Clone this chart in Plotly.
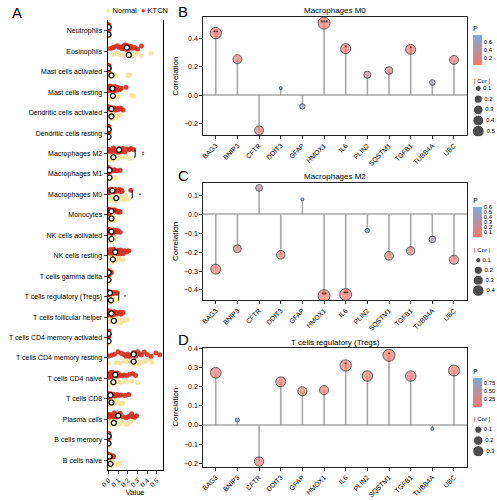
import numpy as np
import plotly.graph_objects as go

# ---------------- data: panel A ----------------
cell_types = ["Neutrophils", "Eosinophils", "Mast cells activated", "Mast cells resting",
              "Dendritic cells activated", "Dendritic cells resting", "Macrophages M2",
              "Macrophages M1", "Macrophages M0", "Monocytes", "NK cells activated",
              "NK cells resting", "T cells gamma delta", "T cells regulatory (Tregs)",
              "T cells follicular helper", "T cells CD4 memory activated",
              "T cells CD4 memory resting", "T cells CD4 naive", "T cells CD8",
              "Plasma cells", "B cells memory", "B cells naive"]

ktcn_values = [
    [0, 0, 0, 0, 0, 0, 0, 0, 0, 0, 0, 0, 0, 0, 0, 0, 0.003, 0.005, 0.008, 0.01],
    [0.02, 0.04, 0.06, 0.09, 0.11, 0.13, 0.14, 0.15, 0.16, 0.17, 0.18, 0.19, 0.2, 0.21, 0.22, 0.23, 0.25, 0.27, 0.3, 0.34],
    [0, 0, 0, 0, 0, 0, 0, 0, 0, 0, 0, 0, 0, 0, 0, 0, 0, 0.003, 0.005, 0.008],
    [0, 0, 0, 0, 0.01, 0.02, 0.03, 0.03, 0.04, 0.04, 0.05, 0.06, 0.07, 0.08, 0.09, 0.1, 0.11, 0.12, 0.13, 0.18],
    [0, 0, 0, 0, 0, 0.01, 0.02, 0.02, 0.03, 0.03, 0.04, 0.05, 0.06, 0.07, 0.08, 0.09, 0.1, 0.12, 0.13, 0.15],
    [0, 0, 0, 0, 0, 0, 0, 0, 0, 0, 0, 0, 0, 0, 0, 0, 0.003, 0.005, 0.008, 0.01],
    [0, 0.01, 0.02, 0.03, 0.05, 0.06, 0.07, 0.08, 0.09, 0.1, 0.11, 0.12, 0.13, 0.14, 0.15, 0.17, 0.19, 0.21, 0.23, 0.26],
    [0, 0, 0, 0, 0, 0, 0, 0, 0.01, 0.01, 0.02, 0.02, 0.03, 0.03, 0.04, 0.05, 0.06, 0.07, 0.09, 0.12],
    [0, 0, 0, 0, 0.01, 0.02, 0.02, 0.03, 0.04, 0.05, 0.06, 0.07, 0.08, 0.09, 0.1, 0.11, 0.12, 0.13, 0.14, 0.23],
    [0, 0, 0, 0, 0.01, 0.01, 0.02, 0.02, 0.03, 0.03, 0.04, 0.04, 0.05, 0.06, 0.07, 0.08, 0.09, 0.1, 0.11, 0.12],
    [0, 0, 0, 0, 0.01, 0.01, 0.02, 0.02, 0.03, 0.03, 0.04, 0.04, 0.05, 0.05, 0.06, 0.07, 0.08, 0.09, 0.1, 0.12],
    [0, 0.01, 0.02, 0.03, 0.04, 0.05, 0.06, 0.06, 0.07, 0.08, 0.09, 0.1, 0.11, 0.12, 0.13, 0.14, 0.15, 0.17, 0.19, 0.21],
    [0, 0, 0, 0, 0, 0, 0, 0, 0, 0, 0, 0, 0, 0, 0.005, 0.01, 0.01, 0.02, 0.02, 0.03],
    [0, 0, 0, 0, 0, 0, 0.01, 0.01, 0.01, 0.02, 0.02, 0.02, 0.03, 0.03, 0.04, 0.05, 0.06, 0.07, 0.08, 0.09],
    [0, 0, 0, 0.01, 0.01, 0.02, 0.02, 0.03, 0.03, 0.04, 0.04, 0.05, 0.06, 0.07, 0.08, 0.09, 0.1, 0.12, 0.13, 0.15],
    [0, 0, 0, 0, 0, 0, 0, 0, 0, 0, 0, 0, 0, 0, 0, 0, 0, 0.003, 0.005, 0.008],
    [0.0, 0.03, 0.06, 0.1, 0.13, 0.16, 0.18, 0.2, 0.22, 0.24, 0.26, 0.28, 0.3, 0.32, 0.34, 0.37, 0.4, 0.44, 0.49, 0.53],
    [0, 0, 0, 0.01, 0.02, 0.03, 0.04, 0.05, 0.06, 0.07, 0.08, 0.09, 0.1, 0.12, 0.14, 0.16, 0.19, 0.22, 0.25, 0.28],
    [0, 0, 0, 0, 0, 0.01, 0.01, 0.02, 0.02, 0.03, 0.03, 0.04, 0.05, 0.06, 0.07, 0.09, 0.11, 0.13, 0.17, 0.21],
    [0, 0.01, 0.02, 0.03, 0.05, 0.06, 0.07, 0.08, 0.09, 0.1, 0.11, 0.12, 0.15, 0.18, 0.2, 0.22, 0.24, 0.25, 0.27, 0.29],
    [0, 0, 0, 0, 0, 0, 0, 0, 0, 0, 0, 0, 0, 0, 0, 0, 0, 0.003, 0.005, 0.01],
    [0, 0, 0, 0, 0, 0, 0, 0.01, 0.01, 0.01, 0.02, 0.02, 0.02, 0.03, 0.03, 0.03, 0.04, 0.04, 0.05, 0.05],
]

normal_values = [
    [0, 0, 0, 0, 0, 0, 0, 0, 0, 0, 0, 0, 0, 0, 0.003, 0.006],
    [0.05, 0.08, 0.1, 0.13, 0.15, 0.17, 0.19, 0.2, 0.21, 0.22, 0.24, 0.26, 0.28, 0.3, 0.34, 0.44],
    [0, 0, 0, 0, 0, 0, 0.01, 0.02, 0.03, 0.03, 0.04, 0.05, 0.07, 0.2, 0.21, 0.22],
    [0, 0, 0, 0.01, 0.02, 0.02, 0.03, 0.03, 0.04, 0.05, 0.06, 0.07, 0.08, 0.1, 0.24, 0.26],
    [0, 0, 0, 0, 0.01, 0.02, 0.02, 0.03, 0.03, 0.04, 0.05, 0.06, 0.07, 0.08, 0.1, 0.12],
    [0, 0, 0, 0, 0, 0, 0, 0, 0, 0, 0, 0, 0, 0.003, 0.005, 0.008],
    [0, 0, 0.01, 0.02, 0.02, 0.03, 0.04, 0.05, 0.05, 0.06, 0.07, 0.08, 0.1, 0.14, 0.18, 0.22],
    [0, 0, 0, 0, 0, 0, 0, 0.01, 0.01, 0.02, 0.02, 0.03, 0.04, 0.05, 0.06, 0.07],
    [0, 0.01, 0.02, 0.03, 0.05, 0.06, 0.07, 0.08, 0.09, 0.1, 0.11, 0.12, 0.14, 0.16, 0.18, 0.2],
    [0, 0, 0, 0.01, 0.01, 0.02, 0.02, 0.03, 0.03, 0.03, 0.04, 0.04, 0.05, 0.05, 0.06, 0.06],
    [0, 0, 0, 0.01, 0.01, 0.02, 0.02, 0.03, 0.03, 0.04, 0.04, 0.05, 0.05, 0.06, 0.06, 0.07],
    [0, 0, 0.01, 0.02, 0.03, 0.04, 0.04, 0.05, 0.05, 0.06, 0.07, 0.08, 0.09, 0.1, 0.12, 0.15],
    [0, 0, 0, 0, 0, 0, 0, 0, 0, 0, 0, 0, 0, 0, 0.003, 0.006],
    [0, 0, 0, 0, 0.01, 0.01, 0.02, 0.02, 0.03, 0.03, 0.04, 0.04, 0.05, 0.05, 0.06, 0.07],
    [0, 0.01, 0.02, 0.03, 0.04, 0.05, 0.05, 0.06, 0.07, 0.08, 0.09, 0.11, 0.13, 0.15, 0.17, 0.19],
    [0, 0, 0, 0, 0, 0, 0, 0, 0, 0, 0, 0, 0, 0, 0, 0.004],
    [0.0, 0.08, 0.12, 0.16, 0.19, 0.21, 0.23, 0.25, 0.27, 0.29, 0.31, 0.33, 0.36, 0.39, 0.42, 0.45],
    [0, 0, 0.01, 0.02, 0.03, 0.04, 0.05, 0.05, 0.06, 0.08, 0.1, 0.12, 0.15, 0.19, 0.24, 0.3],
    [0, 0, 0, 0.01, 0.02, 0.02, 0.03, 0.03, 0.04, 0.05, 0.06, 0.08, 0.1, 0.12, 0.14, 0.15],
    [0, 0.01, 0.02, 0.03, 0.04, 0.05, 0.05, 0.06, 0.07, 0.08, 0.1, 0.12, 0.15, 0.18, 0.2, 0.23],
    [0, 0, 0, 0, 0, 0, 0, 0, 0, 0, 0, 0, 0, 0, 0, 0.004],
    [0, 0, 0, 0, 0.01, 0.01, 0.02, 0.02, 0.03, 0.03, 0.04, 0.05, 0.06, 0.07, 0.09, 0.12],
]

ktcn_center = [0, 0.19, 0, 0.04, 0.03, 0, 0.11, 0.01, 0.04, 0.03, 0.03, 0.07, 0, 0.015,
               0.03, 0, 0.26, 0.07, 0.02, 0.1, 0, 0.01]
normal_center = [0, 0.21, 0.03, 0.045, 0.03, 0, 0.05, 0.01, 0.08, 0.03, 0.03, 0.045, 0, 0.025,
                 0.055, 0, 0.26, 0.05, 0.03, 0.055, 0, 0.02]

sig_cells = ["Macrophages M2", "Macrophages M0", "T cells regulatory (Tregs)"]
sig_labels = ["**", "*", "*"]
value_ticks = [0.0, 0.1, 0.2, 0.3, 0.4, 0.5]

# ---------------- data: panels B-D ----------------
genes = ["BAG3", "BNIP3", "CFTR", "DDIT3", "GFAP", "HMOX1", "IL6", "PLIN2", "SQSTM1",
         "TGFB1", "TUBB4A", "UBC"]
m0_cor = [0.44, 0.255, -0.25, 0.05, -0.08, 0.51, 0.33, 0.145, 0.175, 0.325, 0.09, 0.25]
m0_p = [0.004, 0.08, 0.07, 0.766, 0.6, 0.0006, 0.03, 0.3, 0.22, 0.03, 0.5, 0.08]
m2_cor = [-0.29, -0.182, 0.14, -0.214, 0.079, -0.43, -0.424, -0.086, -0.219, -0.193, -0.132, -0.24]
m2_p = [0.06, 0.2, 0.33, 0.13, 0.61, 0.003, 0.004, 0.55, 0.12, 0.15, 0.38, 0.09]
treg_cor = [0.272, 0.026, -0.19, 0.225, 0.176, 0.182, 0.31, 0.255, 0.363, 0.255, -0.02, 0.284]
treg_p = [0.06, 0.86, 0.12, 0.1, 0.16, 0.15, 0.02, 0.07, 0.012, 0.07, 0.906, 0.055]

# ---------------- styling ----------------
W, H = 497, 500
FONT = "Liberation Sans, Arial, sans-serif"
RED = "#D7301F"
YEL = "#F4E4A1"
LOW_P = "#F8766D"
HIGH_P = "#79ADD8"
STEM = "#A8A8A8"
FRAME = "#222222"


def fx(p):
    return p / W


def fy(p):
    return 1 - p / H


fig = go.Figure()

# ---------------- panel A ----------------
OFF = 0.18
rows = np.arange(len(cell_types))

for vals_list, sign, color in [(normal_values, 1, YEL), (ktcn_values, -1, RED)]:
    xs, ys = [], []
    for i, vals in enumerate(vals_list):
        xs += list(vals)
        ys += [i + sign * OFF] * len(vals)
    fig.add_trace(go.Box(
        x=xs, y=ys, orientation="h", boxpoints="all", jitter=0.85, pointpos=0,
        width=0.34, line=dict(width=0), fillcolor="rgba(0,0,0,0)",
        marker=dict(color=color, size=5, opacity=0.9), showlegend=False,
        hoverinfo="x", xaxis="x", yaxis="y"))

for vals_list, centers, sign in [(ktcn_values, ktcn_center, -1), (normal_values, normal_center, 1)]:
    se = [float(np.std(v, ddof=1) / np.sqrt(len(v))) for v in vals_list]
    fig.add_trace(go.Scatter(
        x=centers, y=rows + sign * OFF, mode="markers",
        marker=dict(symbol="circle", size=5, color="white", line=dict(color="black", width=1.2)),
        error_x=dict(type="data", array=se, color="black", thickness=1, width=0),
        showlegend=False, xaxis="x", yaxis="y", hoverinfo="skip"))

shapes = []
annotations = []
for cell, lab in zip(sig_cells, sig_labels):
    i = cell_types.index(cell)
    xb = max(max(ktcn_values[i]), max(normal_values[i])) + 0.015
    for (x0, y0, x1, y1) in [(xb, i - OFF, xb, i + OFF), (xb - 0.008, i - OFF, xb, i - OFF),
                             (xb - 0.008, i + OFF, xb, i + OFF)]:
        shapes.append(dict(type="line", xref="x", yref="y", x0=x0, y0=y0, x1=x1, y1=y1,
                           line=dict(color="black", width=1)))
    annotations.append(dict(x=xb + 0.012, y=i, xref="x", yref="y", text=lab, showarrow=False,
                            textangle=90, font=dict(size=6, color="black"),
                            xanchor="left", yanchor="middle"))

# legend for panel A
annotations.append(dict(
    x=fx(98), y=fy(8), xref="paper", yref="paper", xanchor="left", yanchor="middle",
    showarrow=False, font=dict(size=7.5, color="black"),
    text=f"<span style='color:{YEL}'>●</span> Normal  <span style='color:{RED}'>●</span> KTCN"))


# ---------------- lollipop panels ----------------
def stars(p):
    if p < 0.001:
        return "***"
    if p < 0.01:
        return "**"
    if p < 0.05:
        return "*"
    return ""


def size_map(vals, ref):
    a = np.abs(np.array(ref))
    vmin, vmax = a.min(), a.max()
    s = np.clip((np.abs(np.array(vals)) - vmin) / (vmax - vmin), 0, 1)
    return 3 + 9 * np.sqrt(s)


panels = [
    dict(cor=m0_cor, p=m0_p, ax="2", title="Macrophages M0", dom_y=(133, 14),
         yr=[-0.284, 0.555], dtick=0.2, cb_y=(20.7, 62.7), cb_dtick=0.2, cb_fmt=".1f",
         leg_vals=[0.1, 0.2, 0.3, 0.4, 0.5], leg_ax="5", leg_dom=(134, 82),
         leg_r=[0.5465, 0.063], leg_title_y=78, title_y=8, letter="B", letter_y=9),
    dict(cor=m2_cor, p=m2_p, ax="3", title="Macrophages M2", dom_y=(299, 180.7),
         yr=[-0.454, 0.168], dtick=0.1, cb_y=(193, 235), cb_dtick=0.1, cb_fmt=".1f",
         leg_vals=[0.1, 0.2, 0.3, 0.4], leg_ax="6", leg_dom=(295, 254),
         leg_r=[0.456, 0.054], leg_title_y=248, title_y=175, letter="C", letter_y=174),
    dict(cor=treg_cor, p=treg_p, ax="4", title="T cells regulatory (Tregs)", dom_y=(466.7, 346.7),
         yr=[-0.218, 0.403], dtick=0.1, cb_y=(365, 406), cb_dtick=0.25, cb_fmt=".2f",
         leg_vals=[0.1, 0.2, 0.3], leg_ax="7", leg_dom=(456, 425),
         leg_r=[0.346, 0.060], leg_title_y=419, title_y=341.5, letter="D", letter_y=338.5),
]

layout_axes = {}
for pn in panels:
    ax = pn["ax"]
    xa, ya = "x" + ax, "y" + ax
    # stems
    sx, sy = [], []
    for g, v in zip(genes, pn["cor"]):
        sx += [g, g, None]
        sy += [0, v, None]
    fig.add_trace(go.Scatter(x=sx, y=sy, mode="lines", line=dict(color=STEM, width=1.6),
                             showlegend=False, hoverinfo="skip", xaxis=xa, yaxis=ya))
    cb_mid = (pn["cb_y"][0] + pn["cb_y"][1]) / 2
    cb_len = (pn["cb_y"][1] - pn["cb_y"][0]) / H
    fig.add_trace(go.Scatter(
        x=genes, y=pn["cor"], mode="markers",
        marker=dict(size=size_map(pn["cor"], pn["cor"]), color=pn["p"],
                    colorscale=[[0, LOW_P], [1, HIGH_P]], showscale=True,
                    line=dict(color=FRAME, width=1),
                    colorbar=dict(x=fx(473), xanchor="left", y=fy(cb_mid), yanchor="middle",
                                  len=cb_len, lenmode="fraction", thickness=9,
                                  thicknessmode="pixels", outlinewidth=0, ticks="",
                                  dtick=pn["cb_dtick"], tick0=0, tickformat=pn["cb_fmt"],
                                  tickfont=dict(size=6, color="black"),
                                  title=dict(text="P", side="top", font=dict(size=6.5)),
                                  xpad=0, ypad=0)),
        showlegend=False, xaxis=xa, yaxis=ya))
    fig.add_trace(go.Scatter(
        x=genes, y=pn["cor"], mode="text", text=[stars(p) for p in pn["p"]],
        textposition="middle center", textfont=dict(size=6.5, color="black"),
        showlegend=False, hoverinfo="skip", xaxis=xa, yaxis=ya))
    # size legend
    la = pn["leg_ax"]
    fig.add_trace(go.Scatter(
        x=[0] * len(pn["leg_vals"]), y=pn["leg_vals"], mode="markers+text",
        text=[f"{v:.1f}" for v in pn["leg_vals"]], textposition="middle right",
        textfont=dict(size=6, color="black"),
        marker=dict(size=size_map(pn["leg_vals"], pn["cor"]), color="black"),
        showlegend=False, hoverinfo="skip", xaxis="x" + la, yaxis="y" + la))
    layout_axes["xaxis" + la] = dict(domain=[fx(472), 1], range=[-1.2, 3.8], visible=False,
                                     anchor="y" + la)
    layout_axes["yaxis" + la] = dict(domain=[fy(pn["leg_dom"][0]), fy(pn["leg_dom"][1])],
                                     range=pn["leg_r"], visible=False, anchor="x" + la)
    annotations.append(dict(x=fx(472), y=fy(pn["leg_title_y"]), xref="paper", yref="paper",
                            text="| Cor |", showarrow=False, xanchor="left", yanchor="middle",
                            font=dict(size=6, color="black")))
    annotations.append(dict(x=fx(333), y=fy(pn["title_y"]), xref="paper", yref="paper",
                            text=pn["title"], showarrow=False, xanchor="center",
                            yanchor="middle", font=dict(size=8, color="black")))
    annotations.append(dict(x=fx(171), y=fy(pn["letter_y"]), xref="paper", yref="paper",
                            text=pn["letter"], showarrow=False, xanchor="left",
                            yanchor="middle", font=dict(size=15, color="black")))
    layout_axes["xaxis" + ax] = dict(
        domain=[fx(199), fx(467)], type="category", categoryorder="array", categoryarray=genes,
        range=[-0.58, 11.62], tickangle=-45, tickfont=dict(size=6.8, color="black"),
        ticks="outside", ticklen=3, tickcolor=FRAME, showline=True, mirror=True,
        linecolor=FRAME, linewidth=1, showgrid=False, zeroline=False, anchor=ya)
    layout_axes["yaxis" + ax] = dict(
        domain=[fy(pn["dom_y"][0]), fy(pn["dom_y"][1])], range=pn["yr"], dtick=pn["dtick"],
        tick0=0, tickformat=".1f", tickfont=dict(size=7, color="black"), ticks="outside",
        ticklen=3, tickcolor=FRAME, showline=True, mirror=True, linecolor=FRAME, linewidth=1,
        showgrid=False, zeroline=True, zerolinecolor="#BDBDBD", zerolinewidth=1.5,
        title=dict(text="Correlation", font=dict(size=8, color="black"), standoff=4),
        anchor=xa)

annotations.append(dict(x=fx(3), y=fy(10), xref="paper", yref="paper", text="A",
                        showarrow=False, xanchor="left", yanchor="middle",
                        font=dict(size=15, color="black")))

fig.update_layout(
    width=W, height=H, margin=dict(l=0, r=0, t=0, b=0),
    paper_bgcolor="white", plot_bgcolor="white",
    font=dict(family=FONT, color="black"),
    showlegend=False,
    xaxis=dict(domain=[fx(102), fx(158)], range=[-0.01, 0.561], tickvals=value_ticks,
               tickformat=".1f", tickangle=-45, tickfont=dict(size=6.5, color="black"),
               ticks="outside", ticklen=3, showline=True, linecolor="black", linewidth=1,
               showgrid=False, zeroline=False, anchor="y",
               title=dict(text="Value", font=dict(size=7.5, color="black"), standoff=2)),
    yaxis=dict(domain=[fy(470), fy(17)], range=[21.49, -0.535], tickvals=list(rows),
               ticktext=cell_types, tickfont=dict(size=7, color="black"), ticks="outside",
               ticklen=3, showline=True, mirror=True, linecolor="black", linewidth=1,
               showgrid=False, zeroline=False, anchor="x"),
    shapes=shapes, annotations=annotations,
    **layout_axes,
)

fig.write_html("out.html", config={"displayModeBar": False},
               post_script="document.body.style.margin='0px';")
